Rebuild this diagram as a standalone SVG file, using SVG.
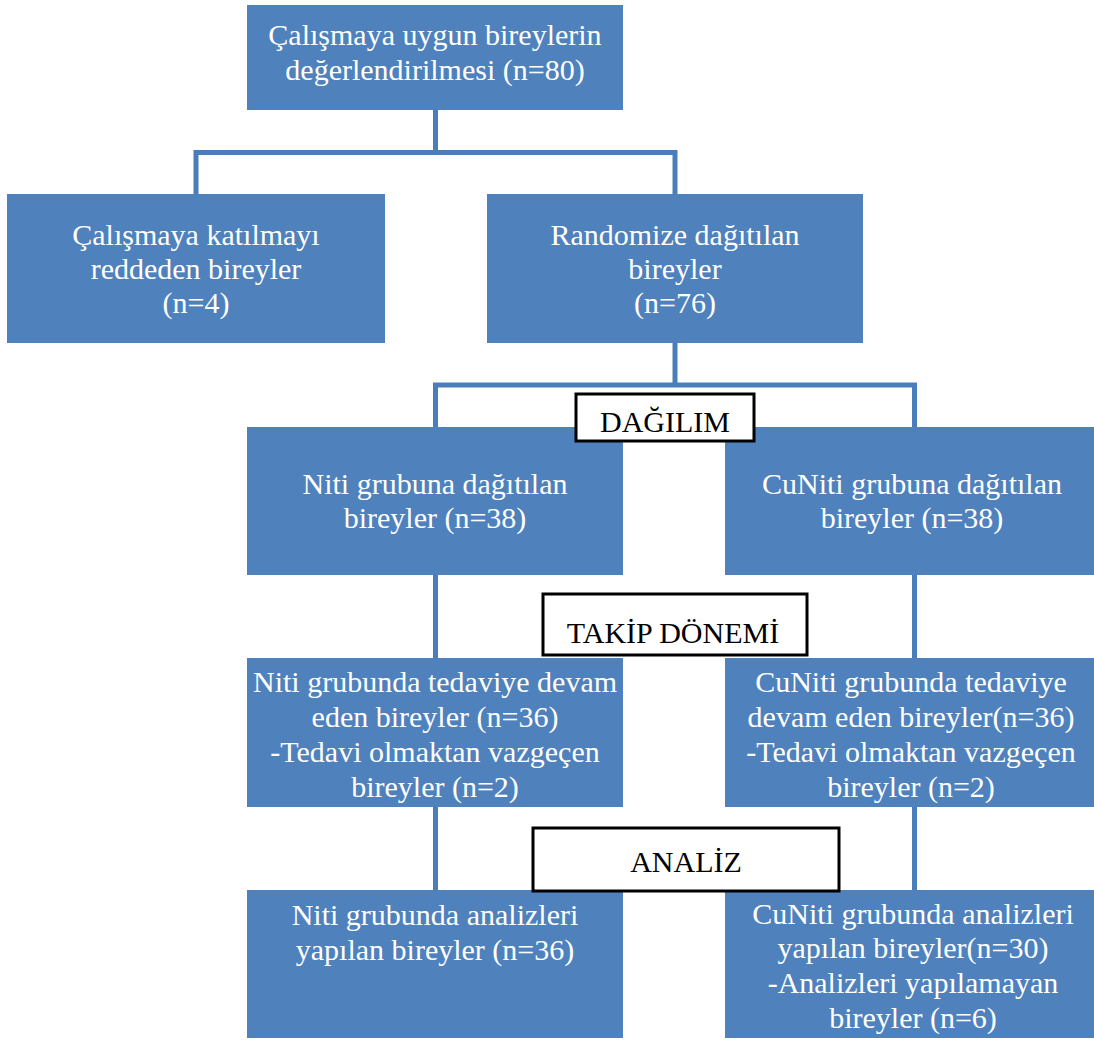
<svg xmlns="http://www.w3.org/2000/svg" width="1094" height="1040" viewBox="0 0 1094 1040">
<style>
.box{fill:#4F81BD}
.t{font-family:"Liberation Serif","Times New Roman",serif;font-size:30px;fill:#FFFFFF;text-anchor:middle}
.lb{fill:#FFFFFF;stroke:#000000;stroke-width:3}
.lt{font-family:"Liberation Serif","Times New Roman",serif;font-size:30px;fill:#000000;text-anchor:middle}
.c{fill:none;stroke:#4A7EBB;stroke-width:5}
</style>
<rect width="1094" height="1040" fill="#FFFFFF"/>
<g id="connectors">
<line class="c" x1="435.5" y1="110" x2="435.5" y2="152.5"/>
<polyline class="c" points="196,194 196,152.5 675,152.5 675,194"/>
<line class="c" x1="675" y1="343" x2="675" y2="385"/>
<polyline class="c" points="435.5,427 435.5,385 914.5,385 914.5,427"/>
<line class="c" x1="435.5" y1="575" x2="435.5" y2="658"/>
<line class="c" x1="914.5" y1="575" x2="914.5" y2="658"/>
<line class="c" x1="435.5" y1="807" x2="435.5" y2="890"/>
<line class="c" x1="914.5" y1="807" x2="914.5" y2="890"/>
</g>
<g id="n1">
<rect class="box" x="247" y="5" width="376" height="105"/>
<text class="t" x="435" y="45">Çalışmaya uygun bireylerin</text>
<text class="t" x="435" y="80">değerlendirilmesi (n=80)</text>
</g>
<g id="n2">
<rect class="box" x="7" y="194" width="378" height="149"/>
<text class="t" x="196" y="245">Çalışmaya katılmayı</text>
<text class="t" x="196" y="279">reddeden bireyler</text>
<text class="t" x="196" y="313">(n=4)</text>
</g>
<g id="n3">
<rect class="box" x="487" y="194" width="376" height="149"/>
<text class="t" x="675" y="245">Randomize dağıtılan</text>
<text class="t" x="675" y="279">bireyler</text>
<text class="t" x="675" y="313">(n=76)</text>
</g>
<g id="n4">
<rect class="box" x="247" y="427" width="376" height="148"/>
<text class="t" x="435" y="494">Niti grubuna dağıtılan</text>
<text class="t" x="435" y="528">bireyler (n=38)</text>
</g>
<g id="n5">
<rect class="box" x="725" y="427" width="378" height="148"/>
<text class="t" x="912" y="494">CuNiti grubuna dağıtılan</text>
<text class="t" x="912" y="528">bireyler (n=38)</text>
</g>
<g id="n6">
<rect class="box" x="247" y="658" width="376" height="149"/>
<text class="t" x="435" y="692">Niti grubunda tedaviye devam</text>
<text class="t" x="435" y="727">eden bireyler (n=36)</text>
<text class="t" x="435" y="762">-Tedavi olmaktan vazgeçen</text>
<text class="t" x="435" y="797">bireyler (n=2)</text>
</g>
<g id="n7">
<rect class="box" x="725" y="658" width="378" height="149"/>
<text class="t" x="911" y="692">CuNiti grubunda tedaviye</text>
<text class="t" x="911" y="727">devam eden bireyler(n=36)</text>
<text class="t" x="911" y="762">-Tedavi olmaktan vazgeçen</text>
<text class="t" x="911" y="797">bireyler (n=2)</text>
</g>
<g id="n8">
<rect class="box" x="247" y="890" width="376" height="148"/>
<text class="t" x="435" y="925">Niti grubunda analizleri</text>
<text class="t" x="435" y="960">yapılan bireyler (n=36)</text>
</g>
<g id="n9">
<rect class="box" x="725" y="890" width="378" height="148"/>
<text class="t" x="913" y="924">CuNiti grubunda analizleri</text>
<text class="t" x="913" y="958">yapılan bireyler(n=30)</text>
<text class="t" x="913" y="993">-Analizleri yapılamayan</text>
<text class="t" x="913" y="1028">bireyler (n=6)</text>
</g>
<g id="label-dagilim">
<rect class="lb" x="576" y="394" width="178" height="47"/>
<text class="lt" x="665" y="432">DAĞILIM</text>
</g>
<g id="label-takip">
<rect class="lb" x="543" y="594" width="264" height="61"/>
<text class="lt" x="673" y="643">TAKİP DÖNEMİ</text>
</g>
<g id="label-analiz">
<rect class="lb" x="533" y="828" width="306" height="63"/>
<text class="lt" x="686" y="872">ANALİZ</text>
</g>
</svg>
